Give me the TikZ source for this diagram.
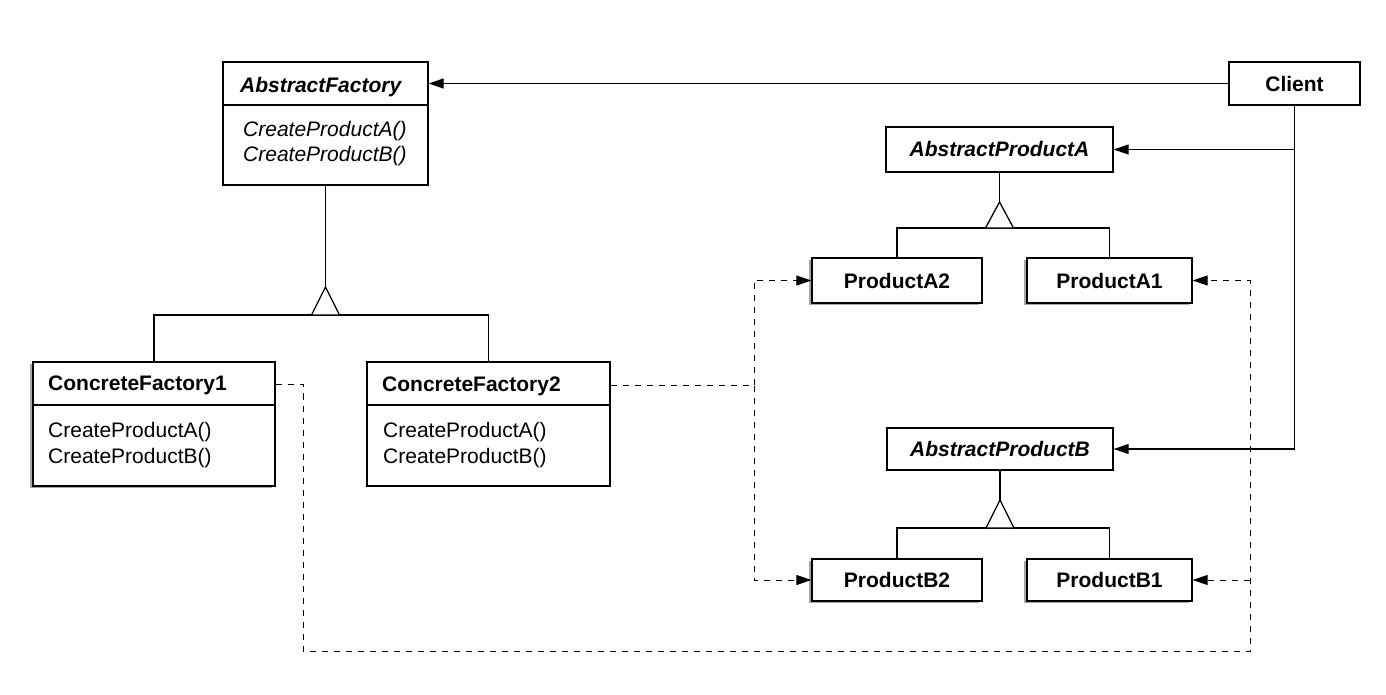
\documentclass[tikz,border=0pt]{standalone}
\usepackage{fontspec}
\setmainfont{Liberation Sans}
\usetikzlibrary{arrows.meta,shadows}
\begin{document}
\begin{tikzpicture}[x=1pt,y=-1pt,
  cls/.style={draw,line width=1.3pt,fill=white,inner sep=0pt,align=center},
  shd/.style={general shadow={fill=black!35,shadow xshift=-3pt,shadow yshift=-2pt}},
  lbl/.style={font=\fontsize{21}{25}\selectfont},
  cname/.style={lbl,font=\fontsize{21}{25}\selectfont\bfseries},
  aname/.style={lbl,font=\fontsize{21}{25}\selectfont\bfseries\itshape},
  txt/.style={anchor=base west,inner sep=0pt},
  ln/.style={line width=1.3pt},
  dep/.style={line width=1pt,dash pattern=on 6pt off 6pt},
  tip/.style={-{Triangle[length=15pt,width=10pt]}},
  inh/.style={line width=1.3pt,fill=white,line join=miter}
]
\useasboundingbox (0,0) rectangle (1386,695);

% classes
\node[cls,minimum width=205pt,minimum height=123pt] (AF) at (325.5,123.5) {};
\node[txt,font=\fontsize{21}{25}\selectfont\bfseries\itshape] (AFt) at (240,93) {AbstractFactory};
\node[txt,font=\fontsize{21}{25}\selectfont\itshape] (AFm1) at (243,137) {CreateProductA()};
\node[txt,font=\fontsize{21}{25}\selectfont\itshape] (AFm2) at (243,162) {CreateProductB()};
\draw[ln] (AF.west |- 0,105) -- (AF.east |- 0,105);

\node[cls,cname,minimum width=131pt,minimum height=43pt] (CL) at (1294.5,83.5) {Client};

\node[cls,aname,minimum width=227pt,minimum height=45pt] (APA) at (999.5,149.5) {AbstractProductA};
\node[cls,shd,cname,minimum width=170pt,minimum height=45pt] (PA2) at (897,280.5) {ProductA2};
\node[cls,shd,cname,minimum width=165pt,minimum height=45pt] (PA1) at (1109.5,280.5) {ProductA1};

\node[cls,aname,minimum width=226pt,minimum height=42pt] (APB) at (1000,449) {AbstractProductB};
\node[cls,shd,cname,minimum width=170pt,minimum height=42pt] (PB2) at (897,580) {ProductB2};
\node[cls,shd,cname,minimum width=165pt,minimum height=42pt] (PB1) at (1109.5,580) {ProductB1};

\node[cls,shd,minimum width=242pt,minimum height=124pt] (CF1) at (154,424) {};
\node[txt,font=\fontsize{21}{25}\selectfont\bfseries] (CF1t) at (48,390) {ConcreteFactory1};
\node[txt,lbl] (CF1m1) at (48,437) {CreateProductA()};
\node[txt,lbl] (CF1m2) at (48,463) {CreateProductB()};
\draw[ln] (CF1.west |- 0,405) -- (CF1.east |- 0,405);

\node[cls,minimum width=243pt,minimum height=124pt] (CF2) at (488.5,424) {};
\node[txt,font=\fontsize{21}{25}\selectfont\bfseries] (CF2t) at (382,391) {ConcreteFactory2};
\node[txt,lbl] (CF2m1) at (383,437) {CreateProductA()};
\node[txt,lbl] (CF2m2) at (383,463) {CreateProductB()};
\draw[ln] (CF2.west |- 0,405) -- (CF2.east |- 0,405);

% inheritance AbstractFactory
\coordinate (t1) at (325.5,287);
\coordinate (b1) at (325.5,315);
\draw[ln] (AF.south) -- (t1);
\draw[ln] (CF1.north) |- (b1) -| (CF2.north);
\draw[inh] (t1) -- (339.5,315) -- (311.5,315) -- cycle;

% inheritance AbstractProductA
\coordinate (t2) at (999.5,202);
\coordinate (b2) at (999.5,228);
\draw[ln] (APA.south) -- (t2);
\draw[ln] (PA2.north) |- (b2) -| (PA1.north);
\draw[inh] (t2) -- (1013.5,228) -- (985.5,228) -- cycle;

% inheritance AbstractProductB
\coordinate (t3) at (1000,500);
\coordinate (b3) at (1000,528);
\draw[ln] (APB.south) -- (t3);
\draw[ln] (PB2.north) |- (b3) -| (PB1.north);
\draw[inh] (t3) -- (1014,528) -- (986,528) -- cycle;

% client associations
\draw[ln,tip] (CL.west) -- (CL.west -| AF.east);
\draw[ln,tip] (CL.south) |- (APA.east);
\draw[ln,tip] (CL.south) |- (APB.east);

% dependencies
\coordinate (c1) at (303,651);
\coordinate (c2) at (1250,651);
\coordinate (lv) at (754,280.5);
\draw[dep,tip] (CF1.east |- CF1t.west) -| (c1) -- (c2) |- (PA1.east);
\draw[dep,tip] (c2 |- PB1.east) -- (PB1.east);
\draw[dep,tip] (CF2.east |- CF2t.west) -- (lv |- CF2t.west) |- (PA2.west);
\draw[dep,tip] (lv |- CF2t.west) |- (PB2.west);
\end{tikzpicture}
\end{document}
